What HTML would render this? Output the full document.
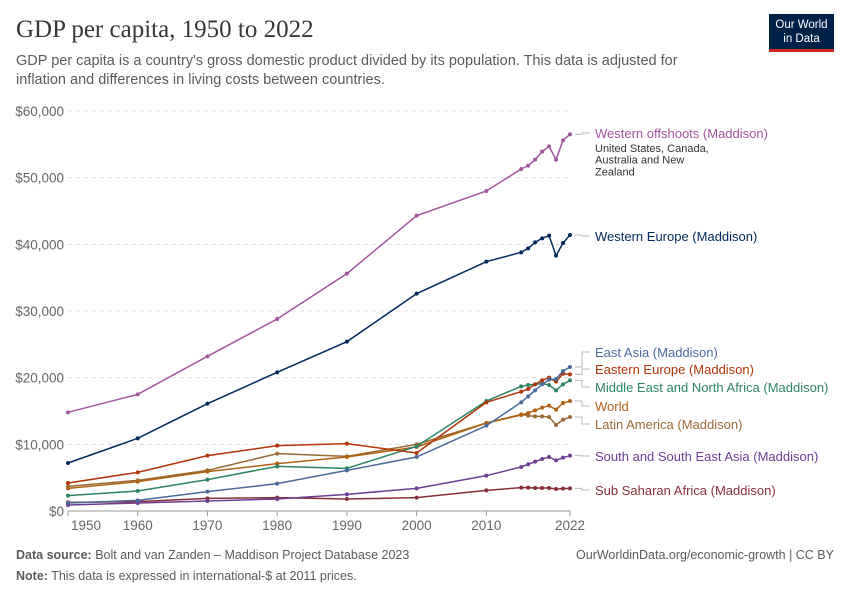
<!DOCTYPE html>
<html><head><meta charset="utf-8"><style>
body{margin:0;background:#fff;font-family:"Liberation Sans",sans-serif;}
#wrap{position:relative;width:850px;height:600px;overflow:hidden}
.t{position:absolute;white-space:nowrap}
</style></head><body>
<div id="wrap">
<div class="t" style="left:16px;top:16px;font-family:'Liberation Serif',serif;font-size:25px;color:#373737">GDP per capita, 1950 to 2022</div>
<div class="t" style="left:16px;top:52px;font-size:14.5px;color:#5b5b5b;line-height:19px;white-space:normal;width:690px">GDP per capita is a country's gross domestic product divided by its population. This data is adjusted for inflation and differences in living costs between countries.</div>
<div style="position:absolute;left:769px;top:14px;width:65px;height:38px;background:#002147;border-bottom:3px solid #ce261e;color:#fff;font-size:11.5px;line-height:14px;text-align:center;padding-top:4px;box-sizing:border-box">Our World<br>in Data</div>
<svg id="chart" width="850" height="600" style="position:absolute;left:0;top:0"></svg>
<div class="t" style="left:16px;top:548px;font-size:12.5px;color:#5b5b5b"><b>Data source:</b> Bolt and van Zanden – Maddison Project Database 2023</div>
<div class="t" style="right:16px;top:548px;font-size:12.5px;color:#5b5b5b">OurWorldinData.org/economic-growth | CC BY</div>
<div class="t" style="left:16px;top:569px;font-size:12.5px;color:#5b5b5b"><b>Note:</b> This data is expressed in international-$ at 2011 prices.</div>
</div>
<script>
const years=[1950,1960,1970,1980,1990,2000,2010,2015,2016,2017,2018,2019,2020,2021,2022];
const yTicks=[0,10000,20000,30000,40000,50000,60000];
const xTicks=[1950,1960,1970,1980,1990,2000,2010,2022];
const seriesNames=["Western offshoots (Maddison)","Western Europe (Maddison)","East Asia (Maddison)","Eastern Europe (Maddison)","Middle East and North Africa (Maddison)","World","Latin America (Maddison)","South and South East Asia (Maddison)","Sub Saharan Africa (Maddison)"];
const westernOffshoots=[14800,17500,23200,28800,35600,44300,48000,51300,51800,52700,53900,54700,52700,55600,56500];
const westernEurope=[7200,10900,16100,20800,25400,32600,37400,38800,39400,40300,40900,41300,38300,40200,41400];
const eastAsia=[1200,1600,2900,4100,6100,8100,12800,16300,17200,18100,19000,19700,19800,21000,21600];
const easternEurope=[4200,5800,8300,9800,10100,8700,16300,17900,18300,19000,19600,20000,19400,20600,20500];
const mena=[2300,3000,4700,6700,6400,9700,16500,18700,18900,19000,19100,18900,18100,19000,19600];
const world=[3400,4400,5900,7100,8100,9600,13200,14400,14700,15100,15500,15800,15200,16200,16500];
const latinAmerica=[3700,4600,6100,8600,8200,10000,13200,14500,14300,14200,14200,14100,12900,13700,14100];
const southAsia=[900,1200,1500,1800,2500,3400,5300,6600,7000,7400,7800,8100,7600,8000,8300];
const ssa=[1300,1400,1900,2000,1800,2000,3100,3500,3500,3450,3450,3450,3300,3350,3400];
const allSeries=[westernOffshoots,westernEurope,eastAsia,easternEurope,mena,world,latinAmerica,southAsia,ssa];
const colors=["#a2559c","#00295b","#4c6a9c","#b13507","#2c8465","#b16214","#9a6a36","#6d3e91","#883039"];
const labelY=[133,236,352,369,387,406,424,456,490];
const NS="http://www.w3.org/2000/svg";
const svg=document.getElementById('chart');
const x=v=>68+(v-1950)*(502/72);
const y=v=>511-v*(400/60000);
function mk(t,a){const e=document.createElementNS(NS,t);for(const k in a)e.setAttribute(k,a[k]);svg.appendChild(e);return e;}
yTicks.forEach(v=>{
 if(v>0){const l=mk('line',{x1:68,x2:570,y1:y(v),y2:y(v),stroke:'#ddd','stroke-dasharray':'4,4'});
 
 }
 const t=mk('text',{x:64,y:y(v)+5,'text-anchor':'end','font-size':13.5,fill:'#666','font-family':'Liberation Sans'});
 t.textContent='$'+v.toLocaleString('en-US');
 
 
});
const ax=mk('line',{x1:68,x2:570,y1:511,y2:511,stroke:'#999'});


xTicks.forEach((v,i)=>{
 mk('line',{x1:x(v),x2:x(v),y1:511,y2:516,stroke:'#999'});
 const t=mk('text',{x:i==0?x(v)+3:x(v),y:530,'text-anchor':i==0?'start':'middle','font-size':13.5,fill:'#666','font-family':'Liberation Sans'});
 t.textContent=v;
 
 
});
for(let s=allSeries.length-1;s>=0;s--){
 const d=allSeries[s];
 const p=mk('polyline',{points:d.map((v,i)=>x(years[i])+','+y(v)).join(' '),fill:'none',stroke:colors[s],'stroke-width':1.5});
 
 
 d.forEach((v,i)=>{const c=mk('circle',{cx:x(years[i]),cy:y(v),r:2,fill:colors[s]});
  
  });
 const ly=y(d[d.length-1]);
 mk('polyline',{points:`575,${ly} 582,${ly} 582,${labelY[s]} 590,${labelY[s]}`,fill:'none',stroke:'#bbb'});
 const t=mk('text',{x:595,y:labelY[s]+5,'font-size':13,fill:colors[s],'font-family':'Liberation Sans'});
 t.textContent=seriesNames[s];
 
 
}
["United States, Canada,","Australia and New","Zealand"].forEach((s,i)=>{
 const t=mk('text',{x:595,y:152+i*11.7,'font-size':11,fill:'#333','font-family':'Liberation Sans'});
 t.textContent=s;
 
 
});
</script>
</body></html>
